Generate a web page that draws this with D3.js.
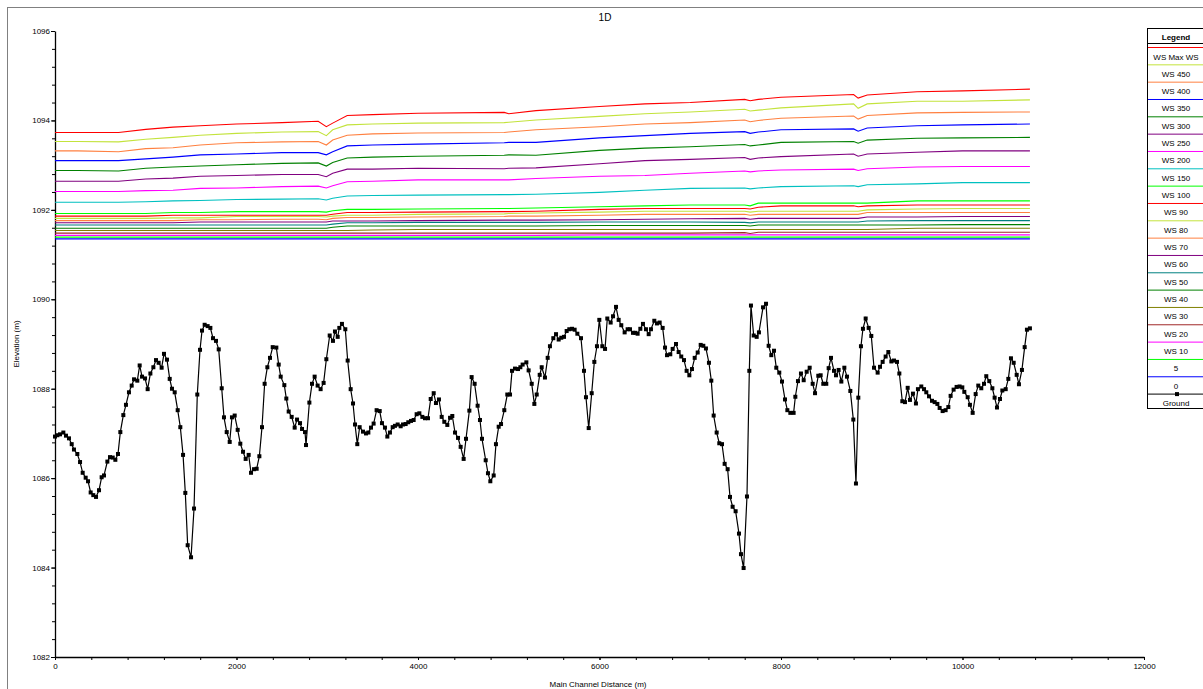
<!DOCTYPE html>
<html>
<head>
<meta charset="utf-8">
<script src="https://cdn.jsdelivr.net/npm/d3@7"></script>
<style>
  body { margin: 0; background: #fff; }
  svg { display: block; font-family: "Liberation Sans", Arial, sans-serif; }
</style>
</head>
<body>
<svg id="chart" width="1203" height="689"></svg>
<script>
// ---- data ----
const chartTitle = '1D';
const xTicks = [0, 2000, 4000, 6000, 8000, 10000, 12000];
const yTicks = [1082, 1084, 1086, 1088, 1090, 1092, 1094, 1096];

// stations (m) where the water surface profiles were read
const wsStations = [0, 250, 700, 1000, 1300, 1600, 2000, 2500, 2900, 2990, 3060, 3220, 3500, 4000, 4950,
  5000, 5300, 6000, 6500, 7000, 7600, 7660, 7750, 8000, 8800, 8850, 8950, 9500, 10000, 10743];

const wsMax = [1093.73, 1093.73, 1093.73, 1093.80, 1093.85, 1093.88, 1093.92, 1093.95, 1093.98, 1093.86, 1093.94, 1094.11, 1094.13, 1094.16, 1094.18,
  1094.15, 1094.22, 1094.31, 1094.37, 1094.40, 1094.47, 1094.44, 1094.47, 1094.52, 1094.58, 1094.50, 1094.57, 1094.64, 1094.66, 1094.70];
const ws450 = [1093.53, 1093.53, 1093.52, 1093.58, 1093.62, 1093.67, 1093.71, 1093.74, 1093.75, 1093.66, 1093.79, 1093.90, 1093.92, 1093.94, 1093.95,
  1093.96, 1094.01, 1094.09, 1094.15, 1094.19, 1094.25, 1094.21, 1094.23, 1094.28, 1094.37, 1094.27, 1094.37, 1094.43, 1094.43, 1094.46];
const ws400 = [1093.32, 1093.32, 1093.30, 1093.37, 1093.39, 1093.45, 1093.50, 1093.52, 1093.53, 1093.45, 1093.56, 1093.67, 1093.70, 1093.72, 1093.73,
  1093.74, 1093.79, 1093.86, 1093.92, 1093.95, 1094.01, 1093.97, 1094.00, 1094.05, 1094.10, 1094.03, 1094.11, 1094.17, 1094.18, 1094.19];
const ws350 = [1093.10, 1093.10, 1093.10, 1093.14, 1093.18, 1093.23, 1093.25, 1093.28, 1093.28, 1093.23, 1093.30, 1093.43, 1093.45, 1093.47, 1093.50,
  1093.51, 1093.51, 1093.61, 1093.66, 1093.71, 1093.75, 1093.71, 1093.74, 1093.79, 1093.81, 1093.76, 1093.83, 1093.88, 1093.90, 1093.92];
const ws300 = [1092.88, 1092.88, 1092.87, 1092.93, 1092.96, 1092.98, 1093.01, 1093.04, 1093.05, 1092.98, 1093.06, 1093.16, 1093.18, 1093.20, 1093.22,
  1093.23, 1093.22, 1093.33, 1093.38, 1093.41, 1093.46, 1093.43, 1093.45, 1093.51, 1093.53, 1093.49, 1093.56, 1093.60, 1093.61, 1093.62];
const ws250 = [1092.64, 1092.64, 1092.64, 1092.69, 1092.71, 1092.75, 1092.77, 1092.79, 1092.79, 1092.74, 1092.82, 1092.91, 1092.91, 1092.93, 1092.92,
  1092.93, 1092.94, 1093.03, 1093.10, 1093.13, 1093.17, 1093.13, 1093.16, 1093.19, 1093.25, 1093.20, 1093.25, 1093.29, 1093.32, 1093.32];
const ws200 = [1092.41, 1092.41, 1092.41, 1092.43, 1092.44, 1092.48, 1092.49, 1092.52, 1092.53, 1092.49, 1092.54, 1092.63, 1092.64, 1092.67, 1092.67,
  1092.67, 1092.70, 1092.75, 1092.77, 1092.82, 1092.87, 1092.85, 1092.87, 1092.89, 1092.91, 1092.88, 1092.92, 1092.96, 1092.97, 1092.97];
const ws150 = [1092.17, 1092.17, 1092.17, 1092.18, 1092.20, 1092.21, 1092.23, 1092.24, 1092.25, 1092.22, 1092.26, 1092.31, 1092.32, 1092.33, 1092.34,
  1092.34, 1092.35, 1092.39, 1092.44, 1092.48, 1092.49, 1092.47, 1092.49, 1092.52, 1092.54, 1092.52, 1092.56, 1092.58, 1092.61, 1092.61];
const ws100 = [1091.92, 1091.92, 1091.92, 1091.92, 1091.94, 1091.94, 1091.96, 1091.96, 1091.96, 1091.95, 1091.98, 1092.01, 1092.01, 1092.02, 1092.03,
  1092.03, 1092.04, 1092.07, 1092.09, 1092.11, 1092.11, 1092.09, 1092.15, 1092.15, 1092.15, 1092.15, 1092.15, 1092.20, 1092.20, 1092.20];
const ws90 = [1091.86, 1091.86, 1091.86, 1091.86, 1091.88, 1091.88, 1091.88, 1091.88, 1091.88, 1091.88, 1091.90, 1091.94, 1091.94, 1091.95, 1091.96,
  1091.96, 1091.97, 1092.01, 1092.03, 1092.03, 1092.03, 1092.02, 1092.06, 1092.09, 1092.09, 1092.07, 1092.09, 1092.11, 1092.11, 1092.11];
const ws80 = [1091.81, 1091.81, 1091.81, 1091.81, 1091.82, 1091.82, 1091.85, 1091.85, 1091.85, 1091.84, 1091.86, 1091.88, 1091.88, 1091.90, 1091.91,
  1091.92, 1091.93, 1091.95, 1091.97, 1091.97, 1091.97, 1091.95, 1091.97, 1091.97, 1091.97, 1091.97, 1092.00, 1092.02, 1092.03, 1092.03];
const ws70 = [1091.76, 1091.76, 1091.76, 1091.76, 1091.76, 1091.78, 1091.78, 1091.79, 1091.79, 1091.78, 1091.81, 1091.83, 1091.83, 1091.84, 1091.85,
  1091.86, 1091.86, 1091.88, 1091.90, 1091.90, 1091.90, 1091.88, 1091.90, 1091.90, 1091.90, 1091.90, 1091.94, 1091.94, 1091.94, 1091.94];
const ws60 = [1091.71, 1091.71, 1091.71, 1091.71, 1091.71, 1091.73, 1091.73, 1091.73, 1091.73, 1091.73, 1091.75, 1091.75, 1091.75, 1091.76, 1091.77,
  1091.77, 1091.77, 1091.78, 1091.79, 1091.80, 1091.81, 1091.79, 1091.81, 1091.81, 1091.81, 1091.81, 1091.84, 1091.84, 1091.85, 1091.85];
const ws50 = [1091.66, 1091.66, 1091.66, 1091.66, 1091.66, 1091.66, 1091.66, 1091.66, 1091.66, 1091.66, 1091.68, 1091.71, 1091.71, 1091.72, 1091.72,
  1091.72, 1091.72, 1091.73, 1091.73, 1091.73, 1091.72, 1091.71, 1091.73, 1091.73, 1091.73, 1091.73, 1091.75, 1091.76, 1091.76, 1091.76];
const ws40 = [1091.59, 1091.59, 1091.59, 1091.59, 1091.59, 1091.59, 1091.59, 1091.59, 1091.59, 1091.59, 1091.61, 1091.64, 1091.64, 1091.64, 1091.64,
  1091.64, 1091.64, 1091.65, 1091.65, 1091.65, 1091.65, 1091.64, 1091.66, 1091.66, 1091.66, 1091.66, 1091.66, 1091.66, 1091.67, 1091.67];
const ws30 = [1091.54, 1091.54, 1091.54, 1091.54, 1091.54, 1091.54, 1091.54, 1091.54, 1091.54, 1091.54, 1091.54, 1091.54, 1091.55, 1091.56, 1091.56,
  1091.56, 1091.56, 1091.56, 1091.56, 1091.56, 1091.56, 1091.56, 1091.56, 1091.56, 1091.56, 1091.56, 1091.56, 1091.59, 1091.59, 1091.59];
const ws20 = [1091.48, 1091.48, 1091.48, 1091.48, 1091.48, 1091.48, 1091.48, 1091.48, 1091.48, 1091.48, 1091.48, 1091.48, 1091.48, 1091.48, 1091.48,
  1091.48, 1091.48, 1091.48, 1091.48, 1091.48, 1091.49, 1091.47, 1091.50, 1091.50, 1091.50, 1091.50, 1091.50, 1091.50, 1091.50, 1091.50];
const ws10 = [1091.43, 1091.43, 1091.43, 1091.43, 1091.43, 1091.43, 1091.43, 1091.43, 1091.43, 1091.43, 1091.43, 1091.43, 1091.43, 1091.43, 1091.43,
  1091.43, 1091.43, 1091.44, 1091.44, 1091.44, 1091.44, 1091.44, 1091.44, 1091.44, 1091.44, 1091.44, 1091.44, 1091.44, 1091.44, 1091.44];
const ws5 = [1091.39, 1091.39, 1091.39, 1091.39, 1091.39, 1091.39, 1091.39, 1091.39, 1091.39, 1091.39, 1091.39, 1091.39, 1091.39, 1091.39, 1091.39,
  1091.39, 1091.39, 1091.39, 1091.39, 1091.39, 1091.39, 1091.39, 1091.39, 1091.39, 1091.39, 1091.39, 1091.39, 1091.39, 1091.39, 1091.39];
const ws0 = [1091.35, 1091.35, 1091.35, 1091.35, 1091.35, 1091.35, 1091.35, 1091.35, 1091.35, 1091.35, 1091.35, 1091.35, 1091.35, 1091.35, 1091.35,
  1091.35, 1091.35, 1091.35, 1091.35, 1091.35, 1091.35, 1091.35, 1091.35, 1091.35, 1091.35, 1091.35, 1091.35, 1091.35, 1091.35, 1091.35];

const profileNames = ['WS Max WS', 'WS 450', 'WS 400', 'WS 350', 'WS 300', 'WS 250', 'WS 200', 'WS 150', 'WS 100',
  'WS 90', 'WS 80', 'WS 70', 'WS 60', 'WS 50', 'WS 40', 'WS 30', 'WS 20', 'WS 10', '5', '0'];
const profileValues = [wsMax, ws450, ws400, ws350, ws300, ws250, ws200, ws150, ws100,
  ws90, ws80, ws70, ws60, ws50, ws40, ws30, ws20, ws10, ws5, ws0];
const profileColors = ['#ff0000', '#c3e33c', '#ff8040', '#0000ff', '#008000', '#800080', '#ff00ff', '#00c0c0', '#00ff00',
  '#ff0000', '#c3e33c', '#ff8040', '#800080', '#008080', '#008000', '#808000', '#a02828', '#ff00ff', '#00ff00', '#0000ff'];

// ground profile: [main channel distance (m), elevation (m)]
const ground = [
  [0,1086.93],[26,1086.96],[55,1086.98],[92,1087.02],[121,1086.95],[154,1086.89],[184,1086.76],[209,1086.64],[246,1086.54],[276,1086.36],
  [305,1086.12],[338,1086.01],[364,1085.93],[393,1085.68],[422,1085.62],[452,1085.58],[485,1085.73],[514,1086.02],[540,1086.06],[577,1086.37],
  [606,1086.47],[636,1086.46],[665,1086.41],[694,1086.54],[720,1087.03],[753,1087.41],[782,1087.64],[815,1087.92],[845,1088.07],[871,1088.21],
  [907,1088.18],[933,1088.52],[959,1088.27],[992,1088.23],[1021,1087.99],[1051,1088.34],[1084,1088.48],[1113,1088.64],[1142,1088.58],[1175,1088.47],
  [1201,1088.78],[1234,1088.65],[1264,1088.22],[1289,1088.00],[1319,1087.92],[1352,1087.52],[1381,1087.14],[1411,1086.52],[1436,1085.67],[1462,1084.50],
  [1499,1084.23],[1532,1085.32],[1568,1087.87],[1598,1088.87],[1620,1089.30],[1649,1089.43],[1682,1089.40],[1712,1089.36],[1741,1089.13],[1774,1089.07],
  [1804,1088.88],[1837,1088.01],[1862,1087.36],[1892,1087.03],[1925,1086.81],[1950,1087.36],[1980,1087.40],[2013,1087.08],[2042,1086.77],[2072,1086.59],
  [2101,1086.43],[2134,1086.52],[2160,1086.12],[2193,1086.20],[2222,1086.21],[2252,1086.49],[2281,1087.14],[2310,1088.11],[2340,1088.48],[2369,1088.69],
  [2399,1088.93],[2439,1088.92],[2465,1088.54],[2487,1088.27],[2527,1088.08],[2549,1087.78],[2575,1087.49],[2608,1087.37],[2641,1087.13],[2667,1087.31],
  [2700,1087.23],[2722,1087.10],[2755,1087.03],[2766,1086.74],[2803,1087.69],[2832,1088.11],[2861,1088.27],[2894,1088.07],[2927,1087.99],[2960,1088.13],
  [2990,1088.66],[3027,1089.19],[3063,1089.07],[3085,1089.28],[3115,1089.16],[3133,1089.36],[3162,1089.45],[3199,1089.33],[3225,1088.63],[3258,1087.99],
  [3284,1087.67],[3306,1087.20],[3331,1086.76],[3357,1087.14],[3394,1087.04],[3427,1087.00],[3453,1087.02],[3482,1087.13],[3511,1087.22],[3544,1087.52],
  [3578,1087.50],[3603,1087.23],[3636,1087.13],[3662,1086.93],[3691,1087.02],[3721,1087.14],[3746,1087.17],[3776,1087.20],[3809,1087.16],[3835,1087.20],
  [3864,1087.21],[3893,1087.25],[3923,1087.28],[3952,1087.30],[3985,1087.43],[4015,1087.45],[4048,1087.37],[4077,1087.34],[4110,1087.34],[4140,1087.77],
  [4173,1087.90],[4198,1087.68],[4231,1087.76],[4261,1087.37],[4290,1087.26],[4323,1087.19],[4353,1087.35],[4378,1087.39],[4408,1087.02],[4441,1086.90],
  [4470,1086.70],[4503,1086.43],[4529,1086.88],[4566,1087.51],[4591,1088.26],[4624,1088.11],[4657,1087.62],[4683,1087.30],[4705,1086.88],[4746,1086.40],
  [4771,1086.11],[4797,1085.93],[4834,1086.06],[4859,1086.76],[4889,1087.15],[4915,1087.21],[4951,1087.52],[4984,1087.87],[5014,1087.87],[5036,1088.40],
  [5069,1088.45],[5102,1088.44],[5128,1088.48],[5153,1088.54],[5194,1088.59],[5219,1088.41],[5253,1088.11],[5282,1087.66],[5308,1087.87],[5341,1088.31],
  [5363,1088.48],[5399,1088.25],[5429,1088.69],[5454,1088.95],[5491,1089.13],[5521,1089.22],[5550,1089.10],[5579,1089.14],[5609,1089.16],[5638,1089.29],
  [5667,1089.33],[5697,1089.34],[5726,1089.32],[5756,1089.23],[5796,1089.13],[5829,1088.40],[5851,1087.81],[5881,1087.12],[5914,1087.90],[5943,1088.60],
  [5972,1088.95],[5998,1089.54],[6031,1088.95],[6061,1088.89],[6086,1089.57],[6123,1089.48],[6149,1089.62],[6182,1089.83],[6211,1089.54],[6240,1089.42],
  [6277,1089.26],[6310,1089.33],[6336,1089.33],[6369,1089.25],[6395,1089.25],[6420,1089.23],[6450,1089.34],[6479,1089.45],[6512,1089.33],[6542,1089.22],
  [6567,1089.33],[6604,1089.52],[6633,1089.46],[6663,1089.48],[6696,1089.36],[6722,1088.92],[6744,1088.75],[6780,1088.77],[6806,1088.89],[6843,1089.00],
  [6872,1088.82],[6901,1088.72],[6931,1088.64],[6960,1088.40],[6990,1088.30],[7019,1088.44],[7049,1088.69],[7082,1088.81],[7115,1088.98],[7144,1088.96],
  [7173,1088.90],[7206,1088.58],[7232,1088.18],[7258,1087.40],[7291,1087.02],[7320,1086.78],[7350,1086.76],[7379,1086.32],[7412,1086.20],[7438,1085.58],
  [7467,1085.36],[7500,1085.26],[7537,1084.76],[7559,1084.30],[7588,1083.99],[7625,1085.59],[7651,1088.40],[7669,1089.86],[7699,1089.19],[7732,1089.16],
  [7757,1089.26],[7802,1089.82],[7835,1089.90],[7864,1088.96],[7893,1088.75],[7923,1088.85],[7948,1088.47],[7981,1088.36],[8011,1088.16],[8044,1087.76],
  [8070,1087.52],[8103,1087.46],[8139,1087.46],[8158,1087.82],[8187,1088.17],[8220,1088.34],[8250,1088.19],[8283,1088.38],[8316,1088.47],[8349,1088.11],
  [8375,1087.90],[8411,1088.29],[8437,1088.30],[8466,1088.11],[8499,1088.11],[8525,1088.46],[8551,1088.69],[8584,1088.40],[8606,1088.30],[8635,1088.42],
  [8665,1088.16],[8698,1088.47],[8727,1088.27],[8764,1087.95],[8797,1087.31],[8826,1085.88],[8852,1087.80],[8881,1088.95],[8903,1089.34],[8933,1089.57],
  [8966,1089.36],[8995,1089.18],[9025,1088.47],[9065,1088.36],[9091,1088.49],[9120,1088.60],[9153,1088.72],[9183,1088.82],[9216,1088.61],[9245,1088.63],
  [9278,1088.60],[9304,1088.34],[9337,1087.72],[9366,1087.70],[9396,1088.02],[9421,1087.75],[9454,1087.89],[9487,1087.67],[9509,1087.99],[9546,1088.05],
  [9576,1087.99],[9601,1087.92],[9631,1087.83],[9664,1087.73],[9693,1087.70],[9723,1087.66],[9748,1087.57],[9781,1087.50],[9814,1087.52],[9844,1087.59],
  [9869,1087.84],[9902,1087.98],[9935,1088.04],[9968,1088.05],[9998,1088.03],[10020,1087.93],[10057,1087.81],[10082,1087.64],[10112,1087.46],[10145,1087.88],
  [10174,1088.07],[10207,1088.01],[10237,1088.11],[10262,1088.28],[10295,1088.17],[10329,1088.01],[10354,1087.80],[10380,1087.58],[10413,1087.77],[10439,1087.96],
  [10476,1087.99],[10505,1088.22],[10534,1088.68],[10564,1088.58],[10597,1088.31],[10622,1088.10],[10655,1088.42],[10685,1088.93],[10710,1089.32],[10743,1089.35]
];

// ---- layout ----
const svg = d3.select('#chart');
const plot = { left: 55, right: 1144, top: 31, bottom: 657 };

// outer frame (only its top and left edges fall inside the window)
svg.append('rect')
  .attr('x', 7.5).attr('y', 7.5)
  .attr('width', 1220).attr('height', 720)
  .attr('fill', 'none').attr('stroke', '#808080');

const x = d3.scaleLinear().domain([0, 12000]).range([plot.left, plot.right]);
const y = d3.scaleLinear().domain([1082, 1096]).range([plot.bottom, plot.top]);

// minor ticks
svg.append('g')
  .attr('transform', `translate(0, ${plot.bottom})`)
  .call(d3.axisBottom(x).tickValues(d3.range(0, 12001, 400)).tickSize(3).tickSizeOuter(0).tickFormat(''))
  .call(g => g.select('.domain').remove());
svg.append('g')
  .attr('transform', `translate(${plot.left}, 0)`)
  .call(d3.axisLeft(y).tickValues(d3.range(0, 36).map(i => 1082 + i * 0.4)).tickSize(3).tickSizeOuter(0).tickFormat(''))
  .call(g => g.select('.domain').remove());

// main axes
const fmt = d3.format('d');
svg.append('g')
  .attr('transform', `translate(0, ${plot.bottom})`)
  .call(d3.axisBottom(x).tickValues(xTicks).tickSize(3).tickSizeOuter(0).tickPadding(3).tickFormat(fmt));
svg.append('g')
  .attr('transform', `translate(${plot.left}, 0)`)
  .call(d3.axisLeft(y).tickValues(yTicks).tickSize(4).tickSizeOuter(0).tickPadding(1).tickFormat(fmt));

svg.selectAll('.tick text').attr('font-size', 8).attr('font-family', '"Liberation Sans", Arial, sans-serif').attr('fill', '#000');
svg.selectAll('.domain').attr('stroke', '#000').attr('stroke-width', 1.3);

// titles
svg.append('text').attr('x', 605).attr('y', 21).attr('text-anchor', 'middle')
  .attr('font-size', 10).text(chartTitle);
svg.append('text').attr('x', 598).attr('y', 687).attr('text-anchor', 'middle')
  .attr('font-size', 8).text('Main Channel Distance (m)');
svg.append('text').attr('transform', 'translate(19, 344) rotate(-90)').attr('text-anchor', 'middle')
  .attr('font-size', 8).text('Elevation (m)');

// water surface profiles (lowest drawn first)
const line = d3.line().x(d => x(d[0])).y(d => y(d[1]));
const profiles = profileNames.map((name, i) => ({
  name, color: profileColors[i],
  points: wsStations.map((s, j) => [s, profileValues[i][j]])
}));
svg.append('g').selectAll('path')
  .data(profiles.slice().reverse())
  .enter()
  .append('path')
  .attr('d', d => line(d.points))
  .attr('fill', 'none')
  .attr('stroke', d => d.color)
  .attr('stroke-width', 1.1);

// ground line with square markers
svg.append('path')
  .attr('d', line(ground))
  .attr('fill', 'none')
  .attr('stroke', '#000')
  .attr('stroke-width', 1.2);
svg.append('g').selectAll('rect')
  .data(ground)
  .enter()
  .append('rect')
  .attr('x', d => x(d[0]) - 2)
  .attr('y', d => y(d[1]) - 2)
  .attr('width', 4).attr('height', 4)
  .attr('fill', '#000');

// ---- legend ----
const legend = svg.append('g').attr('transform', 'translate(1147, 28)');
const legendItems = profiles.map(p => ({ name: p.name, color: p.color, marker: false }))
  .concat([{ name: 'Ground', color: '#000', marker: true }]);
const step = 17.33;

legend.append('rect')
  .attr('x', 0.5).attr('y', 0.5)
  .attr('width', 70).attr('height', 380)
  .attr('fill', '#fff').attr('stroke', '#000');
legend.append('text').attr('x', 29).attr('y', 11.5).attr('text-anchor', 'middle')
  .attr('font-size', 8).attr('font-weight', 'bold').text('Legend');
legend.append('line').attr('x1', 0).attr('x2', 70).attr('y1', 15.5).attr('y2', 15.5)
  .attr('stroke', '#000').attr('stroke-width', 1);

const item = legend.selectAll('g.item')
  .data(legendItems)
  .enter()
  .append('g')
  .attr('class', 'item')
  .attr('transform', (d, i) => `translate(0, ${19.5 + i * step})`);
item.append('line')
  .attr('x1', 1).attr('x2', 70)
  .attr('stroke', d => d.color).attr('stroke-width', 1);
item.filter(d => d.marker).append('rect')
  .attr('x', 28).attr('y', -2).attr('width', 4).attr('height', 4).attr('fill', '#000');
item.append('text')
  .attr('x', 29).attr('y', 12)
  .attr('text-anchor', 'middle')
  .attr('font-size', 8)
  .text(d => d.name);
</script>
</body>
</html>
